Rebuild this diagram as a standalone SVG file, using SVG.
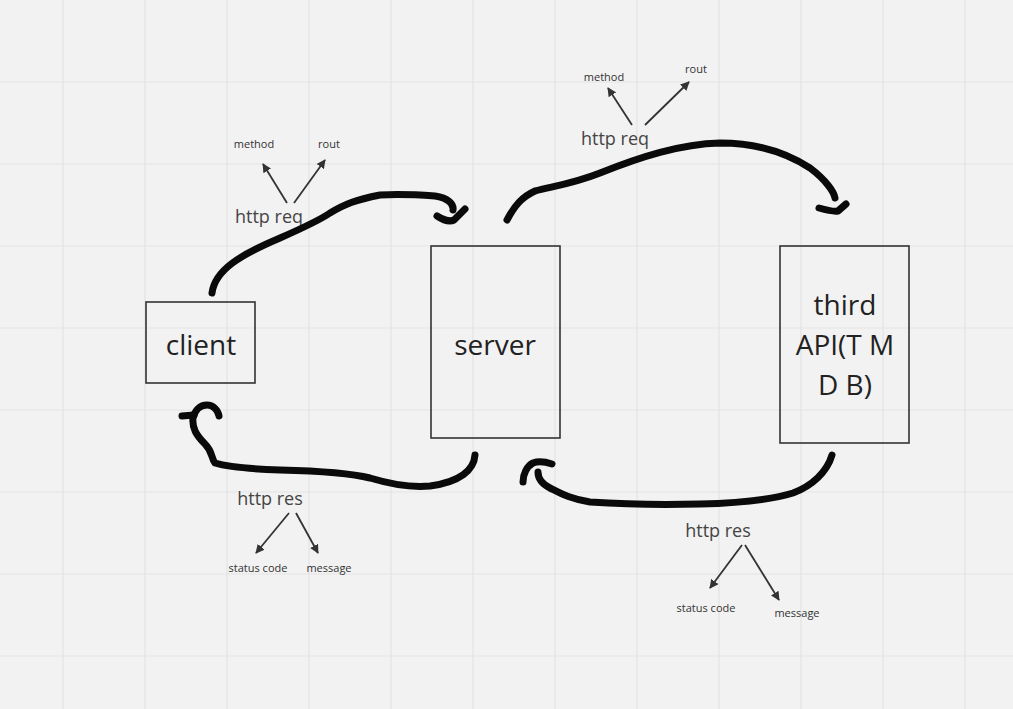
<svg xmlns="http://www.w3.org/2000/svg" width="1013" height="709" viewBox="0 0 1013 709">
<defs>
<style>
.grid line{stroke:#e3e3e3;stroke-width:1.2}
.box{fill:none;stroke:#333;stroke-width:1.6}
.big{font-family:"Open Sans","Liberation Sans",sans-serif;font-size:28px;fill:#222;text-anchor:middle}
.mid{font-family:"Open Sans","Liberation Sans",sans-serif;font-size:18px;fill:#444;text-anchor:middle}
.sm{font-family:"Open Sans","Liberation Sans",sans-serif;font-size:11px;fill:#333;text-anchor:middle}
.ink{fill:none;stroke:#0a0a0a;stroke-width:7;stroke-linecap:round;stroke-linejoin:round}
.thin{fill:none;stroke:#333;stroke-width:1.8;marker-end:url(#ah)}
</style>
<marker id="ah" viewBox="0 0 10 10" refX="9" refY="5" markerWidth="9" markerHeight="9" markerUnits="userSpaceOnUse" orient="auto">
<path d="M0,0 L10,5 L0,10 z" fill="#333"/>
</marker>
</defs>
<rect width="1013" height="709" fill="#f2f2f2"/>
<g class="grid">
<line x1="63" y1="0" x2="63" y2="709"/><line x1="145" y1="0" x2="145" y2="709"/><line x1="227" y1="0" x2="227" y2="709"/><line x1="309" y1="0" x2="309" y2="709"/><line x1="391" y1="0" x2="391" y2="709"/><line x1="473" y1="0" x2="473" y2="709"/><line x1="555" y1="0" x2="555" y2="709"/><line x1="637" y1="0" x2="637" y2="709"/><line x1="719" y1="0" x2="719" y2="709"/><line x1="801" y1="0" x2="801" y2="709"/><line x1="883" y1="0" x2="883" y2="709"/><line x1="965" y1="0" x2="965" y2="709"/>
<line x1="0" y1="82" x2="1013" y2="82"/><line x1="0" y1="164" x2="1013" y2="164"/><line x1="0" y1="246" x2="1013" y2="246"/><line x1="0" y1="328" x2="1013" y2="328"/><line x1="0" y1="410" x2="1013" y2="410"/><line x1="0" y1="492" x2="1013" y2="492"/><line x1="0" y1="574" x2="1013" y2="574"/><line x1="0" y1="656" x2="1013" y2="656"/>
</g>
<g id="client">
<rect class="box" x="146" y="302" width="109" height="81"/>
<text class="big" x="201" y="355">client</text>
</g>
<g id="server">
<rect class="box" x="431" y="246" width="129" height="192"/>
<text class="big" x="495" y="355">server</text>
</g>
<g id="third-api">
<rect class="box" x="780" y="246" width="129" height="197"/>
<text class="big" x="845" y="315">third</text>
<text class="big" x="845" y="355">API(T M</text>
<text class="big" x="845" y="395">D B)</text>
</g>
<g id="labels">
<text class="mid" x="269" y="223">http req</text>
<text class="sm" x="254" y="148">method</text>
<text class="sm" x="329" y="148">rout</text>
<text class="mid" x="615" y="145">http req</text>
<text class="sm" x="604" y="81">method</text>
<text class="sm" x="696" y="73">rout</text>
<text class="mid" x="270" y="505">http res</text>
<text class="sm" x="258" y="572">status code</text>
<text class="sm" x="329" y="572">message</text>
<text class="mid" x="718" y="537">http res</text>
<text class="sm" x="706" y="612">status code</text>
<text class="sm" x="797" y="617">message</text>
</g>
<g id="connectors">
<path class="ink" d="M212,293 C215,270 240,255 280,238 C305,227 320,220 330,213 C345,204 355,200 380,195 C400,194 420,195 435,196 C448,198 454,204 453,210"/>
<path class="ink" d="M437,216 C443,220 450,222 454,220 L465,209"/>
<path class="ink" d="M507,220 C515,205 522,197 535,191 C555,186 575,183 600,173 C640,157 680,144 720,143 C760,143 790,155 810,168 C826,180 834,192 835,198"/>
<path class="ink" d="M819,208 C826,210 833,212 838,211 L846,204"/>
<path class="ink" d="M475,455 C474,470 460,482 430,486 C410,488 390,484 370,478 C350,473 320,471 280,470 C250,469 225,466 215,463 C211,458 213,452 205,444 C196,435 192,428 193,418 C195,410 200,405 207,405 C213,405 218,410 219,416"/>
<path class="ink" d="M182,416 L194,415"/>
<path class="ink" d="M832,455 C827,472 812,486 793,493 C770,500 740,503 700,504 C660,505 620,504 590,502 C570,499 560,493 550,488 C542,484 538,478 538,472"/>
<path class="ink" d="M523,482 C523,474 527,466 533,463 C538,461 546,462 552,464"/>
<path class="thin" d="M287,203 L263,164"/>
<path class="thin" d="M294,203 L325,160"/>
<path class="thin" d="M632,125 L608,88"/>
<path class="thin" d="M645,125 L689,82"/>
<path class="thin" d="M289,513 L256,553"/>
<path class="thin" d="M296,513 L318,553"/>
<path class="thin" d="M742,545 L710,588"/>
<path class="thin" d="M745,545 L779,600"/>
</g>
</svg>
